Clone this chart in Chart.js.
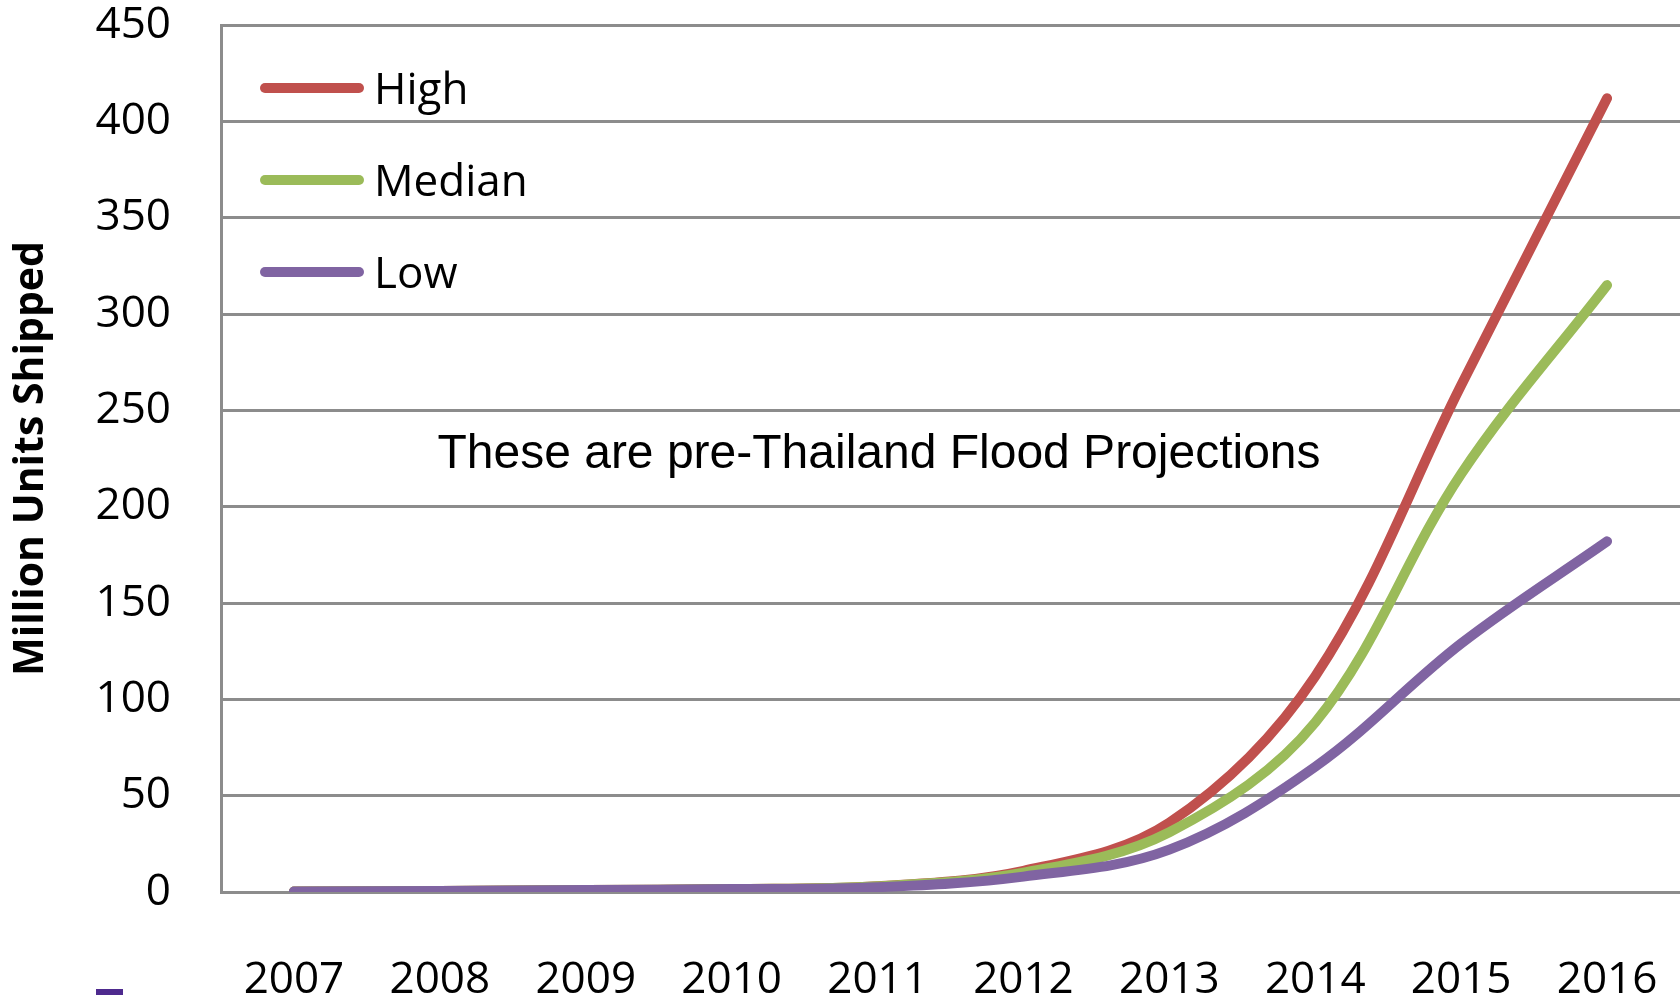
<!DOCTYPE html>
<html><head><meta charset="utf-8">
<script src="https://cdn.jsdelivr.net/npm/chart.js@4"></script>
<style>
html,body{margin:0;padding:0;background:#fff;overflow:hidden}
#wrap{position:relative;width:1680px;height:995px}
#blob{position:absolute;left:96px;top:989px;width:27px;height:6px;background:#4e2a8e}
</style></head><body>
<div id="wrap"><canvas id="c" width="1680" height="995"></canvas><div id="blob"></div></div>
<script>
const years = ['2007','2008','2009','2010','2011','2012','2013','2014','2015','2016'];
const high   = [0.3, 0.5, 1, 1.5, 3, 11, 36, 112, 263, 412];
const median = [0.3, 0.5, 1, 1.5, 3, 10, 31, 88, 217, 315];
const low    = [0.3, 0.5, 1, 1.5, 2.5, 8, 22, 65, 129, 182];
const seriesNames = ['High','Median','Low'];
const seriesColors = ['#c0504d','#9bbb59','#8064a2'];
const yMin = 0, yMax = 450, yStep = 50;
const yTitle = 'Million Units Shipped';
const note = 'These are pre-Thailand Flood Projections';

const GRID = '#8c8c8c';
const FONT = '"Open Sans", sans-serif';
const mk = (i, data, order) => ({
  label: seriesNames[i], data, borderColor: seriesColors[i], backgroundColor: seriesColors[i],
  borderWidth: 10, pointRadius: 0, tension: 0.35, borderCapStyle: 'round', borderJoinStyle: 'round',
  fill: false, order
});

const notePlugin = {
  id: 'note',
  afterDraw(chart) {
    const ctx = chart.ctx;
    ctx.save();
    ctx.font = '48px "Liberation Sans", Arial, sans-serif';
    ctx.fillStyle = '#000';
    ctx.textAlign = 'center';
    ctx.textBaseline = 'middle';
    ctx.fillText(note, 879, 455);
    ctx.restore();
  }
};

const legendPlugin = {
  id: 'customLegend',
  afterDraw(chart) {
    const ctx = chart.ctx;
    ctx.save();
    chart.data.datasets.forEach((ds, i) => {
      const y = 88 + i * 92;
      ctx.strokeStyle = ds.borderColor;
      ctx.lineWidth = 10;
      ctx.lineCap = 'round';
      ctx.beginPath();
      ctx.moveTo(265, y);
      ctx.lineTo(359, y);
      ctx.stroke();
      ctx.fillStyle = '#000';
      ctx.font = '44px ' + FONT;
      ctx.textAlign = 'left';
      ctx.textBaseline = 'middle';
      ctx.fillText(ds.label, 374, y + 3);
    });
    ctx.restore();
  }
};

new Chart(document.getElementById('c'), {
  type: 'line',
  data: { labels: years, datasets: [mk(0, high, 3), mk(1, median, 2), mk(2, low, 1)] },
  options: {
    responsive: false, animation: false, devicePixelRatio: 1,
    layout: { padding: { top: 25, right: 0, bottom: 0, left: 0 } },
    plugins: {
      tooltip: { enabled: false },
      legend: { display: false }
    },
    scales: {
      x: {
        offset: true,
        grid: { display: false, drawTicks: false },
        border: { display: true, color: GRID, width: 3 },
        ticks: { color: '#000', padding: 62, font: { family: FONT, size: 44 }, maxRotation: 0 },
        afterFit(s) { s.height = 103; s.paddingLeft = 0; s.paddingRight = 0; }
      },
      y: {
        min: yMin, max: yMax,
        grid: { color: GRID, lineWidth: 3, drawTicks: false },
        border: { display: true, color: GRID, width: 3 },
        ticks: { stepSize: yStep, color: '#000', padding: 50, font: { family: FONT, size: 44 } },
        title: { display: true, text: yTitle, color: '#000', padding: { top: 7, bottom: 0 },
                 font: { family: FONT, size: 41, weight: 'bold' } },
        afterFit(s) { s.width = 221; s.paddingTop = 0; s.paddingBottom = 0; }
      }
    }
  },
  plugins: [notePlugin, legendPlugin]
});
</script>
</body></html>
